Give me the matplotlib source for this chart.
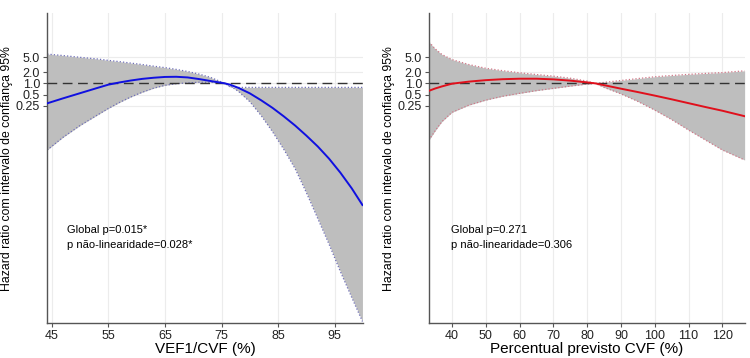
import numpy as np
import matplotlib.pyplot as plt

plt.rcParams['font.family'] = ['Liberation Sans', 'DejaVu Sans']

# left panel: VEF1/CVF (%), values are ln(hazard ratio)
vef_x = [44.2, 47, 50, 53, 55, 57, 59, 61, 63, 65, 67, 69, 71, 73, 75.6,
         76.5, 78, 80, 82, 84, 86, 88, 90, 92, 94, 96, 98, 99.9]
vef_hr = [-1.24, -0.93, -0.61, -0.29, -0.08, 0.06, 0.18, 0.28, 0.35, 0.40, 0.41, 0.37, 0.27, 0.15, 0.0,
          -0.08, -0.28, -0.62, -1.05, -1.52, -2.05, -2.62, -3.25, -3.92, -4.68, -5.55, -6.52, -7.56]
vef_lo = [-4.14, -3.35, -2.62, -1.98, -1.56, -1.18, -0.84, -0.55, -0.30, -0.12, -0.02, 0.03, 0.07, 0.07, 0.0,
          -0.15, -0.50, -1.14, -2.00, -3.00, -4.10, -5.30, -6.80, -8.40, -10.0, -11.7, -13.3, -14.8]
vef_hi = [1.82, 1.73, 1.62, 1.52, 1.43, 1.35, 1.26, 1.17, 1.07, 0.98, 0.87, 0.74, 0.58, 0.38, 0.0,
          -0.22, -0.25, -0.25, -0.25, -0.25, -0.25, -0.25, -0.25, -0.25, -0.25, -0.25, -0.25, -0.25]

# right panel: Percentual previsto CVF (%)
cvf_x = [33.2, 35, 37, 40, 45, 50, 55, 60, 65, 70, 75, 80, 82.4,
         85, 90, 95, 100, 105, 110, 115, 120, 126.6]
cvf_hr = [-0.46, -0.32, -0.19, -0.02, 0.11, 0.20, 0.26, 0.29, 0.29, 0.25, 0.17, 0.06, 0.0,
          -0.11, -0.33, -0.54, -0.76, -0.99, -1.23, -1.47, -1.70, -2.04]
cvf_lo = [-3.52, -2.95, -2.38, -1.80, -1.35, -1.04, -0.80, -0.62, -0.45, -0.31, -0.17, -0.04, 0.0,
          -0.25, -0.65, -1.12, -1.66, -2.25, -2.90, -3.52, -4.14, -4.76]
cvf_hi = [2.58, 2.15, 1.80, 1.48, 1.17, 0.94, 0.79, 0.66, 0.55, 0.45, 0.32, 0.14, 0.0,
          0.06, 0.18, 0.30, 0.41, 0.49, 0.56, 0.62, 0.67, 0.78]

hr_ticks = [0.25, 0.5, 1.0, 2.0, 5.0]
hr_labels = ['0.25', '0.5', '1.0', '2.0', '5.0']

ylab = 'Hazard ratio com intervalo de confiança 95%'


def panel(ax, x, hr, lo, hi, color, edge, xlim, xticks, xlabel, txt, tx):
    ax.fill_between(x, lo, hi, color='#bebebe', lw=0, zorder=1)
    ax.plot(x, lo, ls=':', color=edge, lw=0.9, zorder=2)
    ax.plot(x, hi, ls=':', color=edge, lw=0.9, zorder=2)
    ax.axhline(0, color='#333333', lw=1.0, dashes=(7, 4), zorder=3)
    ax.plot(x, hr, color=color, lw=1.4, zorder=4)

    ax.set_xlim(*xlim)
    ax.set_ylim(-14.91, 4.37)
    ax.set_xticks(xticks)
    ax.set_yticks(np.log(hr_ticks))
    ax.set_yticklabels(hr_labels)
    ax.grid(True, color='#ececec', lw=0.8)
    ax.set_axisbelow(True)
    for s in ['top', 'right']:
        ax.spines[s].set_visible(False)
    for s in ['left', 'bottom']:
        ax.spines[s].set_color('#555555')
        ax.spines[s].set_linewidth(1.0)
    ax.tick_params(colors='#555555', labelcolor='#222222', labelsize=9, length=3, width=0.8, pad=2)
    ax.set_xlabel(xlabel, fontsize=11, labelpad=0)
    ax.set_ylabel(ylab, fontsize=8.8, labelpad=2)
    ax.text(tx, 0.30, txt[0], transform=ax.transAxes, fontsize=8, va='center')
    ax.text(tx, 0.252, txt[1], transform=ax.transAxes, fontsize=8, va='center')


fig = plt.figure(figsize=(7.5, 3.58), dpi=100)
ax1 = fig.add_axes([0.0627, 0.097, 0.4217, 0.8665])
ax2 = fig.add_axes([0.572, 0.097, 0.4213, 0.8665])

panel(ax1, vef_x, vef_hr, vef_lo, vef_hi, '#1010e0', '#7070b8', (44.17, 100.05),
      [45, 55, 65, 75, 85, 95], 'VEF1/CVF (%)',
      ['Global p=0.015*', 'p não-linearidade=0.028*'], 0.063)
panel(ax2, cvf_x, cvf_hr, cvf_lo, cvf_hi, '#e0101c', '#d07888', (33.2, 126.7),
      [40, 50, 60, 70, 80, 90, 100, 110, 120], 'Percentual previsto CVF (%)',
      ['Global p=0.271', 'p não-linearidade=0.306'], 0.07)

plt.savefig('out.png', dpi=100)
